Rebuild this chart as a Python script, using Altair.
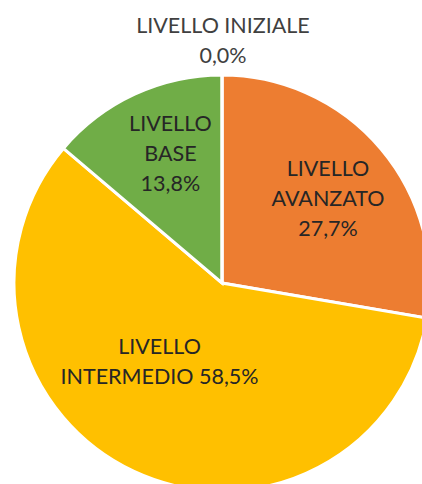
import altair as alt
import pandas as pd

# Distribution of levels (percent)
livelli = ["LIVELLO AVANZATO", "LIVELLO INTERMEDIO", "LIVELLO BASE", "LIVELLO INIZIALE"]
percentuali = [27.7, 58.5, 13.8, 0.0]
etichette = [
    "LIVELLO\nAVANZATO\n27,7%",
    "LIVELLO\nINTERMEDIO 58,5%",
    "LIVELLO\nBASE\n13,8%",
    "LIVELLO INIZIALE\n0,0%",
]
colori = ["#ED7D31", "#FFC000", "#70AD47", "#A5A5A5"]

df = pd.DataFrame({
    "livello": livelli,
    "valore": percentuali,
    "etichetta": etichette,
    "ordine": list(range(len(livelli))),
})

CX, CY, R = 222, 283, 208
FONT = "Lato"
scala_theta = alt.Scale(domain=[0, 100])

# Cumulative start/end of every slice, shared by the arcs and the labels
base = (
    alt.Chart(df)
    .transform_stack(stack="valore", groupby=[], as_=["inizio", "fine"],
                     sort=[alt.SortField("ordine")])
    .transform_calculate(medio="(datum.inizio + datum.fine) / 2")
    .encode(x=alt.value(CX), y=alt.value(CY))
)

torta = base.mark_arc(outerRadius=R, stroke="white", strokeWidth=3).encode(
    theta=alt.Theta("inizio:Q", scale=scala_theta),
    theta2="fine:Q",
    color=alt.Color(
        "livello:N",
        scale=alt.Scale(domain=livelli, range=colori),
        legend=None,
    ),
)


def etichetta(nome, raggio, dx=0, dy=0, colore="#262626"):
    return base.transform_filter(alt.datum.livello == nome).mark_text(
        radius=raggio,
        dx=dx,
        dy=dy,
        font=FONT,
        fontSize=21.5,
        lineBreak="\n",
        lineHeight=30,
        align="center",
        baseline="middle",
        color=colore,
    ).encode(
        theta=alt.Theta("medio:Q", scale=scala_theta),
        text="etichetta:N",
    )


chart = alt.layer(
    torta,
    etichetta("LIVELLO AVANZATO", 140, dx=-1, dy=-23),
    etichetta("LIVELLO INTERMEDIO", 72, dx=-32),
    etichetta("LIVELLO BASE", 130, dx=3, dy=-40),
    etichetta("LIVELLO INIZIALE", 256, dx=1, colore="#404040"),
).properties(
    width=422,
    height=484,
    padding=0,
    autosize=alt.AutoSizeParams(type="none"),
).configure_view(stroke=None)

chart.save("out.html", embed_options={"renderer": "svg", "actions": False})
